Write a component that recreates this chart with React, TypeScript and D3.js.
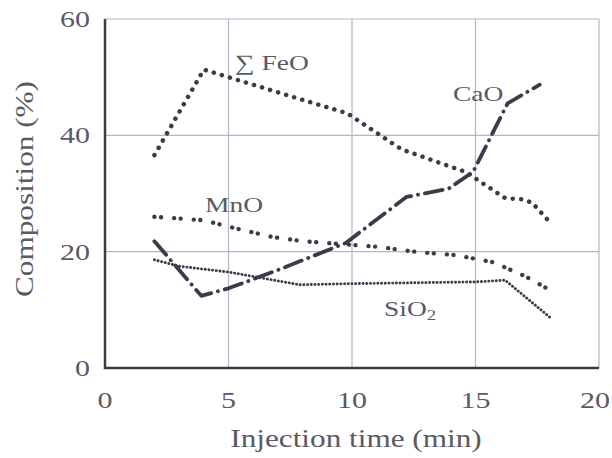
import React, { useEffect, useRef } from "react";
import * as d3 from "d3";

// values (injection time in min, composition in %)
const feoX = [2, 4, 5, 8, 9.8, 12, 14.6, 16.2, 16.9, 17.3, 18];
const feoY = [36.6, 51.3, 50, 46.1, 43.8, 37.6, 33.7, 29.2, 29, 28.4, 25.1];

const caoX = [2, 3.9, 5, 7.1, 9.75, 12.2, 13.9, 14.9, 16.3, 17.6];
const caoY = [21.8, 12.4, 13.7, 17, 21.5, 29.4, 30.8, 33.7, 45.5, 48.7];

const mnoX = [2, 4, 5, 6.8, 8, 11.1, 12.7, 14.2, 15.7, 17, 18.1];
const mnoY = [26, 25.4, 24.3, 22.5, 21.8, 20.8, 19.9, 19.4, 18.2, 15.8, 13.2];

const sioX = [2, 3, 5, 7.9, 10, 15, 16.2, 18.1];
const sioY = [18.6, 17.5, 16.5, 14.3, 14.5, 14.8, 15.1, 8.4];

const xTicks = [0, 5, 10, 15, 20];
const yTicks = [0, 20, 40, 60];

const ink = "#3b3b4a";
const textCol = "#5a5a62";
const gridCol = "#b4b6c8";
const font = "Liberation Serif, Times New Roman, serif";
const stretch = 1.25; // the scanned figure is wider than it is tall

const App = () => {
  const svgRef = useRef<SVGSVGElement>(null);
  const width = 612;
  const height = 458;
  const margin = { top: 19, right: 13, bottom: 90, left: 105 };

  useEffect(() => {
    const svg = d3.select(svgRef.current);
    svg.selectAll("*").remove();

    const x = d3.scaleLinear().domain([0, 20]).range([margin.left, width - margin.right]);
    const y = d3.scaleLinear().domain([0, 60]).range([height - margin.bottom, margin.top]);

    const label = (g, tx, ty, size, anchor = "start", rot = 0) =>
      g.append("text")
        .attr("transform", `translate(${tx},${ty}) rotate(${rot}) scale(${stretch},1)`)
        .attr("text-anchor", anchor)
        .attr("font-family", font)
        .attr("font-size", size)
        .attr("fill", textCol);

    // grid
    svg.append("g")
      .selectAll("line")
      .data(xTicks.slice(1))
      .enter()
      .append("line")
      .attr("x1", (d) => x(d))
      .attr("x2", (d) => x(d))
      .attr("y1", y(0))
      .attr("y2", y(60))
      .attr("stroke", gridCol)
      .attr("stroke-width", 1.2);

    svg.append("g")
      .selectAll("line")
      .data(yTicks.slice(1))
      .enter()
      .append("line")
      .attr("x1", x(0))
      .attr("x2", x(20))
      .attr("y1", (d) => y(d))
      .attr("y2", (d) => y(d))
      .attr("stroke", gridCol)
      .attr("stroke-width", 1.2);

    // left and bottom axis lines
    svg.append("path")
      .attr("d", `M${x(0)},${y(60)}V${y(0)}H${x(20)}`)
      .attr("fill", "none")
      .attr("stroke", ink)
      .attr("stroke-width", 2.5);

    // tick labels (last one pulled in so it stays inside the frame)
    xTicks.forEach((d, i) =>
      i === xTicks.length - 1
        ? label(svg, width - 2, 408, 24, "end").text(d)
        : label(svg, x(d), 408, 24, "middle").text(d)
    );
    yTicks.forEach((d) => label(svg, 90, y(d) + 8, 24, "end").text(d));

    // axis titles
    label(svg, 356, 447, 25, "middle").text("Injection time (min)");
    label(svg, 33, 189, 25, "middle", -90).text("Composition (%)");

    const line = d3.line<[number, number]>()
      .x((d) => x(d[0]))
      .y((d) => y(d[1]));

    const series = [
      { xs: feoX, ys: feoY, dash: "0.1 8.3", w: 4.5 },
      { xs: mnoX, ys: mnoY, dash: "0.1 6.5 0.1 13", w: 4.3 },
      { xs: sioX, ys: sioY, dash: "0.1 3.6", w: 2.9 },
      { xs: caoX, ys: caoY, dash: "18 7 0.1 7", w: 3.8 },
    ];

    series.forEach((s) => {
      svg.append("path")
        .datum(s.xs.map((v, i) => [v, s.ys[i]] as [number, number]))
        .attr("d", line)
        .attr("fill", "none")
        .attr("stroke", ink)
        .attr("stroke-width", s.w)
        .attr("stroke-linecap", "round")
        .attr("stroke-linejoin", "round")
        .attr("stroke-dasharray", s.dash);
    });

    // series labels
    label(svg, 235, 70, 22).text("\u2211 FeO");
    label(svg, 205, 212, 22).text("MnO");
    label(svg, 453, 101, 22).text("CaO");
    const si = label(svg, 384, 316, 22);
    si.append("tspan").text("SiO");
    si.append("tspan").attr("font-size", 15).attr("dy", 4).text("2");
  });

  return (
    <svg
      ref={svgRef}
      width={width}
      height={height}
      style={{ position: "absolute", left: 0, top: 0, background: "#fff" }}
    ></svg>
  );
};

export default App;
